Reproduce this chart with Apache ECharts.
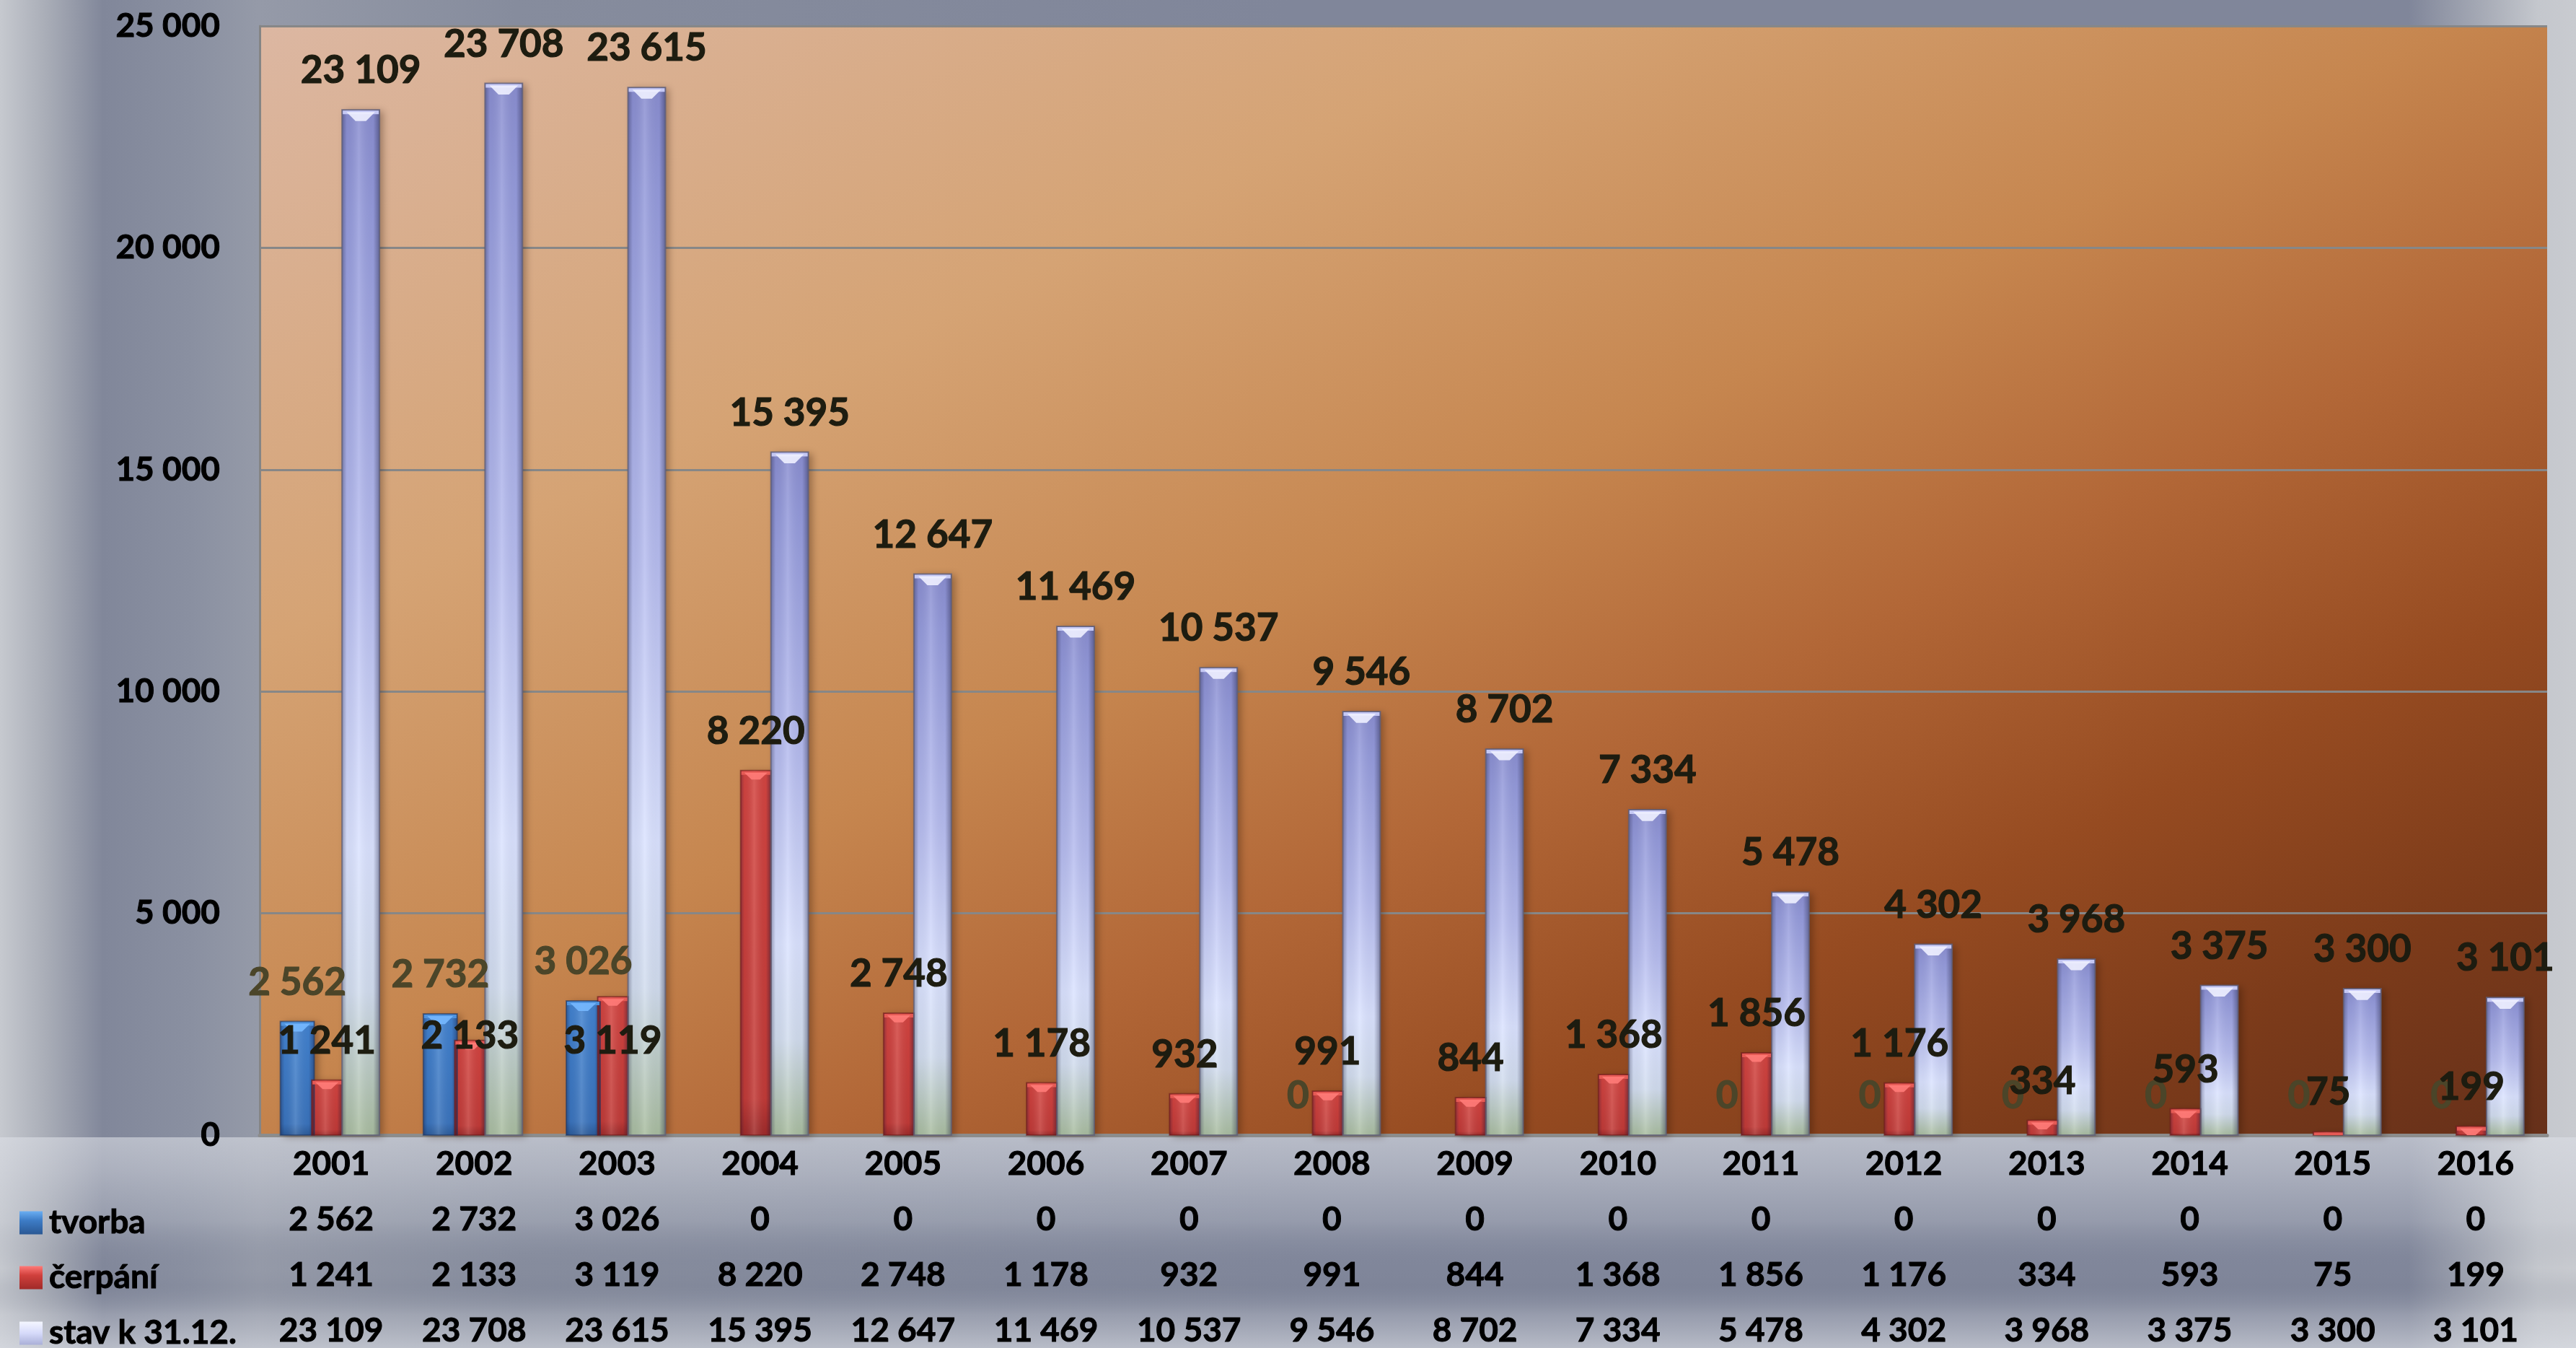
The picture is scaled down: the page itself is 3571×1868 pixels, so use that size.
<!DOCTYPE html>
<html>
<head>
<meta charset="utf-8">
<title>tvorba, čerpání, stav k 31.12.</title>
<script src="https://cdn.jsdelivr.net/npm/echarts@6/dist/echarts.min.js"></script>
<style>
  html, body { margin: 0; padding: 0; background: #80869a; }
  #chart { width: 3571px; height: 1868px; }
</style>
</head>
<body>
<div id="chart"></div>
<script>
// ---- data ----
const years = ['2001', '2002', '2003', '2004', '2005', '2006', '2007', '2008',
               '2009', '2010', '2011', '2012', '2013', '2014', '2015', '2016'];
const tvorba  = [2562, 2732, 3026, 0, 0, 0, 0, 0, 0, 0, 0, 0, 0, 0, 0, 0];
const cerpani = [1241, 2133, 3119, 8220, 2748, 1178, 932, 991, 844, 1368, 1856, 1176, 334, 593, 75, 199];
const stav    = [23109, 23708, 23615, 15395, 12647, 11469, 10537, 9546, 8702, 7334, 5478, 4302, 3968, 3375, 3300, 3101];
const seriesNames = ['tvorba', 'čerpání', 'stav k 31.12.'];
const yMax = 25000;
const yStep = 5000;

// ---- label layout ----
// years whose zero "tvorba" label is left out
const tvorbaLabelHidden = ['2004', '2005', '2006', '2007', '2009', '2010'];
// labels moved down from their default place above the column (px)
const labelDrop = { 1: { '2002': 48, '2003': 116 } };

// ---- helpers ----
const FONT = 'Lato, "Noto Sans", "Open Sans", sans-serif';
const fmt = v => String(v).replace(/\B(?=(\d{3})+(?!\d))/g, ' ');

const lin = (x, y, x2, y2, stops) => new echarts.graphic.LinearGradient(x, y, x2, y2,
  stops.map(([o, c]) => ({ offset: o, color: c })));

// cylinder width and centre offset, both as shares of the category band
const SLOT_WIDTH = [0.237, 0.212, 0.262];
const SLOT_OFFSET = [-0.237, -0.030, 0.207];
const LABEL_RISE = 54;

const looks = [
  { // tvorba – blue
    body: lin(0, 0, 0, 1, [[0, '#4283d0'], [0.9, '#3a74bd'], [1, '#2c5c9a']]),
    edge: 'rgba(30,55,100,0.55)',
    rim: '#4f93de',
    cap: '#76b8ff',
    label: '#4b4529',
    icon: lin(0, 0, 0, 1, [[0, '#6aaef2'], [0.4, '#3d7cc6'], [1, '#2a5894']])
  },
  { // čerpání – red
    body: lin(0, 0, 0, 1, [[0, '#d4443f'], [0.9, '#c23a36'], [1, '#9e2a28']]),
    edge: 'rgba(110,25,25,0.55)',
    rim: '#e55a55',
    cap: '#ff7b78',
    label: '#1d1c10',
    icon: lin(0, 0, 0, 1, [[0, '#ff7a78'], [0.4, '#d0403c'], [1, '#a02a28']])
  },
  { // stav – lavender to white to pale green
    body: lin(0, 0, 0, 1, [[0, '#8a8ed0'], [0.1, '#959bdb'], [0.45, '#b7bdef'], [0.72, '#dbe3ff'],
                           [0.86, '#d2ddee'], [1, '#a9bd9f']]),
    edge: 'rgba(95,95,120,0.75)',
    rim: '#c5c8f4',
    cap: '#eef0ff',
    label: '#1d1c10',
    icon: lin(0, 0, 0, 1, [[0, '#f4f6ff'], [0.5, '#d6dafa'], [1, '#aab0d8']])
  }
];

// side shading that turns a flat bar into a cylinder
const shade = lin(0, 0, 1, 0, [
  [0, 'rgba(20,20,50,0.40)'], [0.14, 'rgba(20,20,50,0.05)'], [0.45, 'rgba(255,255,255,0.14)'],
  [0.82, 'rgba(20,20,50,0.04)'], [1, 'rgba(20,20,50,0.45)']
]);

function cylinder(slot) {
  const look = looks[slot];
  const drops = labelDrop[slot] || {};
  return function (params, api) {
    const i = api.value(0);
    const v = api.value(1);
    const year = years[i];
    const band = api.size([1, 0])[0];
    const w = band * SLOT_WIDTH[slot];
    const base = api.coord([i, 0]);
    const top = api.coord([i, v]);
    const cx = base[0] + SLOT_OFFSET[slot] * band;
    const x = cx - w / 2;
    const h = base[1] - top[1];
    const kids = [];
    if (h > 0.5) {
      const shape = { x: x, y: top[1], width: w, height: h };
      kids.push({ type: 'rect', shape: shape, z2: 1,
        style: { fill: look.body, shadowBlur: 10, shadowColor: 'rgba(40,15,0,0.35)',
                 shadowOffsetX: 5, shadowOffsetY: 2 } });
      kids.push({ type: 'rect', shape: shape, z2: 2,
        style: { fill: shade, stroke: look.edge, lineWidth: 2 } });
      const capH = Math.min(h, w * 0.3);
      kids.push({ type: 'rect', z2: 3,
        shape: { x: x + 1, y: top[1] + 1, width: w - 2, height: Math.min(h - 1, 5) },
        style: { fill: look.rim } });
      if (h > 6) {
        kids.push({ type: 'polygon', z2: 4,
          shape: { points: [[x + w * 0.12, top[1] + 3], [x + w * 0.88, top[1] + 3],
                            [x + w * 0.64, top[1] + capH], [x + w * 0.36, top[1] + capH]] },
          style: { fill: look.cap, opacity: 0.9 } });
      }
    }
    const hidden = slot === 0 && tvorbaLabelHidden.indexOf(year) >= 0;
    if (!hidden) {
      kids.push({ type: 'text', x: cx, y: top[1] - LABEL_RISE + (drops[year] || 0), z2: 100,
        style: { text: fmt(v), fill: look.label, font: 'bold 53px ' + FONT,
                 stroke: look.label, lineWidth: 1.2,
                 align: 'center', verticalAlign: 'middle' } });
    }
    return { type: 'group', children: kids };
  };
}

const columns = [tvorba, cerpani, stav];

// one legend per table row so each key sits level with its row
const legendRows = [1687, 1763, 1840];

const boldText = { fontFamily: FONT, fontWeight: 'bold', fontSize: 46, color: '#000',
                   textBorderColor: '#000', textBorderWidth: 1 };

const chart = echarts.init(document.getElementById('chart'), null, { renderer: 'canvas' });

chart.setOption({
  animation: false,
  backgroundColor: lin(0, 0, 1, 0, [
    [0, '#c6c9cf'], [0.018, '#a9adb7'], [0.04, '#81879a'], [0.075, '#8a90a1'], [0.1, '#959aa8'],
    [0.2, '#868c9d'], [0.5, '#80869a'], [0.935, '#80869a'], [0.965, '#a8acb7'],
    [0.985, '#c4c7cd'], [1, '#c9cbd0']
  ]),
  graphic: [
    { // glossy band behind the data table
      type: 'rect', z: -1, silent: true,
      shape: { x: 0, y: 1576, width: 3571, height: 292 },
      style: { fill: lin(0, 0, 0, 1, [
        [0, 'rgba(220,223,230,0.60)'], [0.15, 'rgba(215,218,226,0.50)'], [0.4, 'rgba(205,209,218,0.28)'],
        [0.62, 'rgba(128,134,154,0.0)'], [0.7, 'rgba(110,116,136,0.10)'], [0.84, 'rgba(205,208,216,0.30)'],
        [1, 'rgba(220,223,230,0.60)']
      ]) }
    }
  ],
  grid: {
    left: 360, right: 40, top: 36, bottom: 295,
    outerBoundsMode: 'none',
    show: true, borderWidth: 0,
    backgroundColor: lin(0, 0, 0.38, 1.62, [
      [0, '#dcb7a2'], [0.28, '#d5a374'], [0.48, '#c6864f'], [0.62, '#b26737'],
      [0.76, '#964b21'], [0.88, '#7c3b1a'], [1, '#66301a']
    ])
  },
  legend: seriesNames.map((name, k) => ({
    orient: 'vertical',
    left: 27, top: legendRows[k] - 16,
    padding: 0,
    itemWidth: 32, itemHeight: 32,
    icon: 'rect',
    selectedMode: false,
    data: [name],
    textStyle: Object.assign({ padding: [0, 0, 0, 4] }, boldText)
  })),
  xAxis: {
    type: 'category',
    data: years,
    axisTick: { show: false },
    axisLine: { show: true, lineStyle: { color: '#8c8c8c', width: 5 } },
    axisLabel: Object.assign({
      margin: 2,
      interval: 0,
      lineHeight: 77,
      formatter: (val, idx) => [val, fmt(tvorba[idx]), fmt(cerpani[idx]), fmt(stav[idx])].join('\n')
    }, boldText)
  },
  yAxis: {
    type: 'value',
    min: 0, max: yMax, interval: yStep,
    axisLine: { show: true, lineStyle: { color: '#858585', width: 3 } },
    axisTick: { show: false },
    splitLine: { lineStyle: { color: '#878787', width: 3 } },
    axisLabel: Object.assign({ margin: 55, formatter: v => fmt(v) }, boldText)
  },
  series: columns.map((col, s) => ({
    name: seriesNames[s],
    type: 'custom',
    renderItem: cylinder(s),
    itemStyle: { color: looks[s].icon },
    encode: { x: 0, y: 1 },
    data: col.map((v, i) => [i, v])
  }))
});
</script>
</body>
</html>
